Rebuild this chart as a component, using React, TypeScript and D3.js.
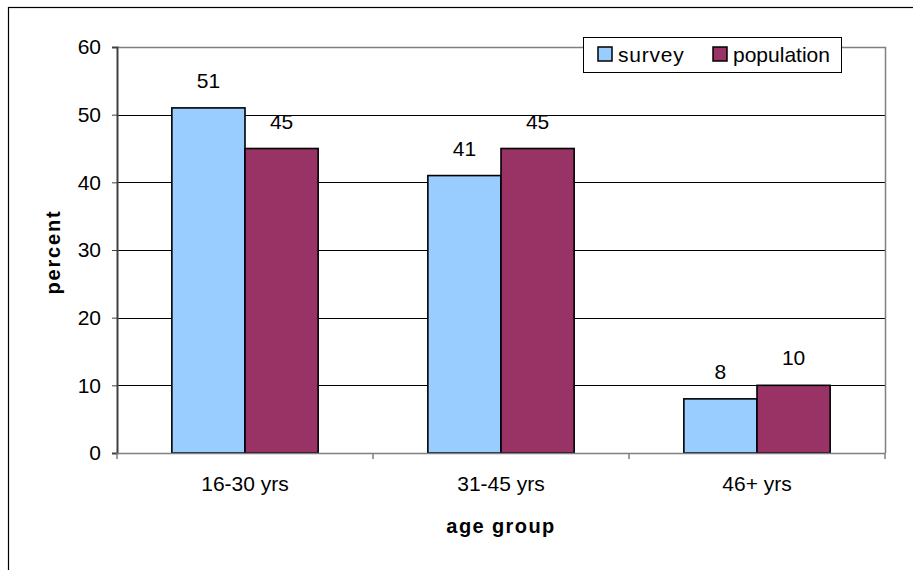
import * as d3 from 'd3'
import { useEffect, useRef } from 'react'

const categories = ['16-30 yrs', '31-45 yrs', '46+ yrs']
const seriesNames = ['survey', 'population']
const surveyValues = [51, 41, 8]
const populationValues = [45, 45, 10]
const yTicks = [0, 10, 20, 30, 40, 50, 60]
const colors = ['#99CCFF', '#993366']

const FONT = '"Liberation Sans", Arial, sans-serif'

export default function App() {
  const svgRef = useRef<SVGSVGElement>(null)

  useEffect(() => {
    if (!svgRef.current) return
    const W = 913
    const H = 570
    const plot = { left: 117, right: 885, top: 47, bottom: 453 }

    const svg = d3.select(svgRef.current)
    svg.selectAll('*').remove()
    svg.attr('width', W).attr('height', H)

    // outer chart border (right and bottom fall outside the picture)
    svg
      .append('rect')
      .attr('x', 8.5)
      .attr('y', 7.5)
      .attr('width', W + 20)
      .attr('height', H + 20)
      .attr('fill', '#fff')
      .attr('stroke', '#000')
      .attr('stroke-width', 1.2)

    const x0 = d3.scaleBand<string>().domain(categories).range([plot.left, plot.right])
    const groupWidth = x0.bandwidth() / 1.75
    const x1 = d3
      .scaleBand<string>()
      .domain(seriesNames)
      .range([0, groupWidth])
    const y = d3.scaleLinear().domain([0, 60]).range([plot.bottom, plot.top])

    // gridlines
    svg
      .append('g')
      .selectAll('line')
      .data(yTicks.filter((t) => t > 0 && t < 60))
      .enter()
      .append('line')
      .attr('x1', plot.left)
      .attr('x2', plot.right)
      .attr('y1', (d) => Math.round(y(d)) + 0.5)
      .attr('y2', (d) => Math.round(y(d)) + 0.5)
      .attr('stroke', '#000')
      .attr('stroke-width', 1)

    // plot area frame (top and right)
    svg
      .append('path')
      .attr('d', `M${plot.left},${plot.top + 0.5}H${plot.right + 0.5}V${plot.bottom}`)
      .attr('fill', 'none')
      .attr('stroke', '#808080')
      .attr('stroke-width', 1.5)

    // bars
    const data = categories.map((c, i) => ({
      cat: c,
      values: [surveyValues[i], populationValues[i]],
    }))
    const groups = svg
      .append('g')
      .selectAll('g')
      .data(data)
      .enter()
      .append('g')
      .attr(
        'transform',
        (d) => `translate(${(x0(d.cat) as number) + (x0.bandwidth() - groupWidth) / 2},0)`
      )

    groups
      .selectAll('rect')
      .data((d) => d.values.map((v, j) => ({ name: seriesNames[j], v, j })))
      .enter()
      .append('rect')
      .attr('x', (d) => x1(d.name) as number)
      .attr('y', (d) => y(d.v))
      .attr('width', x1.bandwidth())
      .attr('height', (d) => y(0) - y(d.v))
      .attr('fill', (d) => colors[d.j])
      .attr('stroke', '#000')
      .attr('stroke-width', 1.6)

    groups
      .selectAll('text')
      .data((d) => d.values.map((v, j) => ({ name: seriesNames[j], v, j })))
      .enter()
      .append('text')
      .attr('x', (d) => (x1(d.name) as number) + x1.bandwidth() / 2)
      .attr('y', (d) => y(d.v) - 20)
      .attr('text-anchor', 'middle')
      .attr('font-family', FONT)
      .attr('font-size', 21)
      .attr('fill', '#000')
      .text((d) => String(d.v))

    // y axis
    const yAxis = svg
      .append('g')
      .attr('transform', `translate(${plot.left},0)`)
      .call(d3.axisLeft(y).tickValues(yTicks).tickSize(5).tickPadding(11))
    yAxis.select('.domain').attr('stroke', '#404040').attr('stroke-width', 2)
    yAxis.selectAll('.tick line').attr('stroke', '#404040')
    yAxis
      .selectAll('.tick text')
      .attr('font-family', FONT)
      .attr('font-size', 21)
      .attr('fill', '#000')

    // x axis
    const xAxis = svg
      .append('g')
      .attr('transform', `translate(0,${plot.bottom})`)
      .call(d3.axisBottom(x0).tickSize(0).tickPadding(23))
    xAxis.select('.domain').attr('stroke', '#808080').attr('stroke-width', 1.5)
    xAxis
      .selectAll('.tick text')
      .attr('font-family', FONT)
      .attr('font-size', 21)
      .attr('fill', '#000')
    // category separator ticks
    const boundaries = [...categories.map((c) => x0(c) as number), plot.right]
    xAxis
      .append('g')
      .selectAll('line')
      .data(boundaries)
      .enter()
      .append('line')
      .attr('x1', (d) => d)
      .attr('x2', (d) => d)
      .attr('y1', 0)
      .attr('y2', 6)
      .attr('stroke', '#808080')
      .attr('stroke-width', 1.5)

    // axis titles
    svg
      .append('text')
      .attr('transform', `translate(60,${(plot.top + plot.bottom) / 2 + 2}) rotate(-90)`)
      .attr('text-anchor', 'middle')
      .attr('font-family', FONT)
      .attr('font-size', 20)
      .attr('font-weight', 'bold')
      .attr('letter-spacing', 1.8)
      .text('percent')

    svg
      .append('text')
      .attr('x', (plot.left + plot.right) / 2)
      .attr('y', 533)
      .attr('text-anchor', 'middle')
      .attr('font-family', FONT)
      .attr('font-size', 20)
      .attr('font-weight', 'bold')
      .attr('letter-spacing', 1.4)
      .text('age group')

    // legend
    const legend = svg.append('g').attr('transform', 'translate(583,37)')
    legend
      .append('rect')
      .attr('x', 0.5)
      .attr('y', 0.5)
      .attr('width', 258)
      .attr('height', 35)
      .attr('fill', '#fff')
      .attr('stroke', '#000')
      .attr('stroke-width', 1)
    const itemX = [15, 130]
    seriesNames.forEach((name, i) => {
      legend
        .append('rect')
        .attr('x', itemX[i])
        .attr('y', 10)
        .attr('width', 14)
        .attr('height', 14)
        .attr('fill', colors[i])
        .attr('stroke', '#000')
        .attr('stroke-width', 1.5)
      legend
        .append('text')
        .attr('x', itemX[i] + 20)
        .attr('y', 25)
        .attr('font-family', FONT)
        .attr('font-size', 21)
        .attr('letter-spacing', i === 0 ? 0.8 : 0)
        .text(name)
    })
  }, [])

  return (
    <svg
      ref={svgRef}
      style={{ position: 'absolute', left: 0, top: 0, display: 'block' }}
    />
  )
}
